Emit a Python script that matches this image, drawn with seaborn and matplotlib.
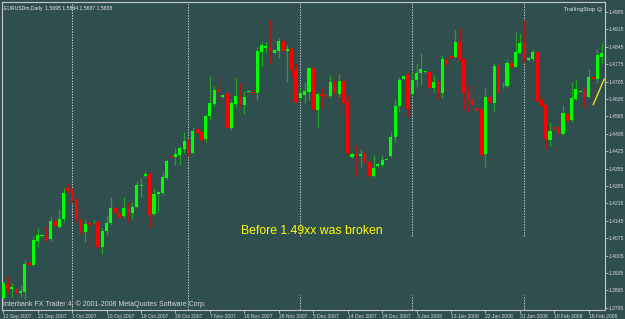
import numpy as np
import pandas as pd
import matplotlib
matplotlib.use("Agg")
import matplotlib.pyplot as plt
import seaborn as sns

# ---- data (EURUSDm, Daily) ----
opens = [1.3833, 1.3891, 1.3869, 1.3869, 1.3855, 1.3859, 1.3976, 1.3967, 1.4064, 1.4084,
         1.4088, 1.4071, 1.4145, 1.4121, 1.4151, 1.4278, 1.4269, 1.4232, 1.4151, 1.4100,
         1.4137, 1.4143, 1.4141, 1.4040, 1.4105, 1.4135, 1.4197, 1.4172, 1.4164, 1.4197,
         1.4175, 1.4201, 1.4285, 1.4325, 1.4333, 1.4172, 1.4253, 1.4258, 1.4316, 1.4406,
         1.4401, 1.4410, 1.4433, 1.4466, 1.4419, 1.4513, 1.4502, 1.4473, 1.4566, 1.4615,
         1.4674, 1.4642, 1.4657, 1.4517, 1.4615, 1.4644, 1.4611, 1.4662, 1.4664, 1.4660,
         1.4823, 1.4839, 1.4845, 1.4821, 1.4828, 1.4868, 1.4828, 1.4835, 1.4752, 1.4640,
         1.4651, 1.4662, 1.4761, 1.4591, 1.4655, 1.4650, 1.4647, 1.4707, 1.4655, 1.4707,
         1.4624, 1.4401, 1.4414, 1.4406, 1.4417, 1.4383, 1.4325, 1.4365, 1.4369, 1.4390,
         1.4406, 1.4483, 1.4607, 1.4714, 1.4731, 1.4655, 1.4711, 1.4741, 1.4743, 1.4744,
         1.4678, 1.4703, 1.4658, 1.4794, 1.4808, 1.4803, 1.4863, 1.4794, 1.4658, 1.4634,
         1.4597, 1.4593, 1.4414, 1.4642, 1.4620, 1.4768, 1.4682, 1.4687, 1.4781, 1.4765,
         1.4821, 1.4861, 1.4792, 1.4794, 1.4823, 1.4631, 1.4611, 1.4470, 1.4521, 1.4523,
         1.4494, 1.4575, 1.4550, 1.4634, 1.4664, 1.4668, 1.4642, 1.4725, 1.4714, 1.4805]
highs = [1.3900, 1.3923, 1.3894, 1.3873, 1.3887, 1.3987, 1.3987, 1.4084, 1.4115, 1.4092,
         1.4124, 1.4161, 1.4155, 1.4191, 1.4276, 1.4296, 1.4276, 1.4236, 1.4195, 1.4148,
         1.4155, 1.4148, 1.4145, 1.4115, 1.4168, 1.4240, 1.4211, 1.4181, 1.4240, 1.4222,
         1.4222, 1.4306, 1.4316, 1.4345, 1.4342, 1.4276, 1.4265, 1.4342, 1.4393, 1.4409,
         1.4437, 1.4446, 1.4503, 1.4473, 1.4523, 1.4518, 1.4510, 1.4574, 1.4727, 1.4687,
         1.4735, 1.4655, 1.4664, 1.4631, 1.4719, 1.4704, 1.4668, 1.4671, 1.4684, 1.4845,
         1.4865, 1.4865, 1.4953, 1.4835, 1.4879, 1.4901, 1.4852, 1.4843, 1.4779, 1.4678,
         1.4704, 1.4765, 1.4769, 1.4658, 1.4678, 1.4652, 1.4731, 1.4744, 1.4735, 1.4735,
         1.4651, 1.4417, 1.4450, 1.4433, 1.4437, 1.4390, 1.4410, 1.4376, 1.4410, 1.4394,
         1.4503, 1.4636, 1.4725, 1.4731, 1.4744, 1.4744, 1.4779, 1.4821, 1.4747, 1.4752,
         1.4731, 1.4711, 1.4812, 1.4808, 1.4819, 1.4913, 1.4919, 1.4799, 1.4691, 1.4691,
         1.4602, 1.4601, 1.4678, 1.4644, 1.4779, 1.4772, 1.4704, 1.4795, 1.4785, 1.4906,
         1.4899, 1.4953, 1.4804, 1.4835, 1.4825, 1.4651, 1.4615, 1.4543, 1.4523, 1.4575,
         1.4611, 1.4577, 1.4704, 1.4711, 1.4671, 1.4684, 1.4754, 1.4727, 1.4835, 1.4859]
lows = [1.3826, 1.3853, 1.3839, 1.3850, 1.3839, 1.3826, 1.3960, 1.3963, 1.4038, 1.4079,
        1.4065, 1.4065, 1.4115, 1.4115, 1.4141, 1.4256, 1.4216, 1.4141, 1.4081, 1.4061,
        1.4030, 1.4135, 1.4034, 1.4010, 1.4088, 1.4128, 1.4148, 1.4155, 1.4158, 1.4141,
        1.4151, 1.4195, 1.4242, 1.4320, 1.4121, 1.4168, 1.4181, 1.4249, 1.4312, 1.4398,
        1.4370, 1.4370, 1.4416, 1.4406, 1.4414, 1.4496, 1.4446, 1.4462, 1.4550, 1.4607,
        1.4624, 1.4639, 1.4510, 1.4510, 1.4604, 1.4602, 1.4575, 1.4659, 1.4617, 1.4631,
        1.4768, 1.4819, 1.4778, 1.4819, 1.4799, 1.4805, 1.4704, 1.4725, 1.4617, 1.4631,
        1.4617, 1.4631, 1.4584, 1.4521, 1.4597, 1.4642, 1.4642, 1.4631, 1.4644, 1.4571,
        1.4410, 1.4397, 1.4325, 1.4362, 1.4322, 1.4302, 1.4322, 1.4362, 1.4362, 1.4388,
        1.4403, 1.4463, 1.4584, 1.4711, 1.4563, 1.4651, 1.4684, 1.4691, 1.4741, 1.4655,
        1.4664, 1.4634, 1.4638, 1.4754, 1.4794, 1.4799, 1.4785, 1.4591, 1.4584, 1.4591,
        1.4583, 1.4403, 1.4362, 1.4617, 1.4588, 1.4657, 1.4678, 1.4684, 1.4752, 1.4762,
        1.4819, 1.4785, 1.4788, 1.4789, 1.4624, 1.4604, 1.4437, 1.4446, 1.4510, 1.4490,
        1.4490, 1.4537, 1.4543, 1.4631, 1.4662, 1.4604, 1.4638, 1.4607, 1.4700, 1.4780]
closes = [1.3894, 1.3869, 1.3877, 1.3855, 1.3861, 1.3971, 1.3967, 1.4068, 1.4088, 1.4087,
          1.4068, 1.4145, 1.4125, 1.4151, 1.4256, 1.4265, 1.4229, 1.4151, 1.4095, 1.4132,
          1.4129, 1.4145, 1.4040, 1.4105, 1.4135, 1.4197, 1.4175, 1.4161, 1.4197, 1.4175,
          1.4201, 1.4289, 1.4289, 1.4333, 1.4168, 1.4253, 1.4260, 1.4320, 1.4387, 1.4401,
          1.4413, 1.4437, 1.4466, 1.4419, 1.4507, 1.4499, 1.4470, 1.4567, 1.4617, 1.4673,
          1.4664, 1.4650, 1.4517, 1.4618, 1.4647, 1.4615, 1.4644, 1.4667, 1.4659, 1.4828,
          1.4852, 1.4848, 1.4828, 1.4832, 1.4868, 1.4828, 1.4835, 1.4752, 1.4624, 1.4658,
          1.4667, 1.4759, 1.4591, 1.4655, 1.4647, 1.4644, 1.4704, 1.4655, 1.4707, 1.4620,
          1.4417, 1.4414, 1.4407, 1.4414, 1.4377, 1.4326, 1.4356, 1.4373, 1.4390, 1.4392,
          1.4483, 1.4607, 1.4711, 1.4727, 1.4593, 1.4711, 1.4741, 1.4757, 1.4745, 1.4678,
          1.4703, 1.4658, 1.4794, 1.4772, 1.4801, 1.4863, 1.4794, 1.4658, 1.4634, 1.4611,
          1.4588, 1.4410, 1.4642, 1.4624, 1.4768, 1.4664, 1.4684, 1.4781, 1.4765, 1.4825,
          1.4859, 1.4794, 1.4799, 1.4823, 1.4627, 1.4607, 1.4473, 1.4507, 1.4515, 1.4494,
          1.4577, 1.4547, 1.4638, 1.4674, 1.4668, 1.4642, 1.4725, 1.4715, 1.4812, 1.4819]

date_labels = ["12 Sep 2007", "21 Sep 2007", "1 Oct 2007", "10 Oct 2007", "19 Oct 2007",
               "29 Oct 2007", "7 Nov 2007", "16 Nov 2007", "26 Nov 2007", "5 Dec 2007",
               "14 Dec 2007", "24 Dec 2007", "3 Jan 2008", "13 Jan 2008", "22 Jan 2008",
               "31 Jan 2008", "10 Feb 2008", "19 Feb 2008"]
date_bars = list(range(0, 137, 8))
price_ticks = [round(1.3795 + 0.007 * k, 4) for k in range(18)]

month_bars = [16, 43, 69, 95, 121]          # period separators
broken_bars = [69, 95, 121]                 # separators with a hidden gap
gap_prices = [1.3846, 1.4084]

trend_x = [137.0, 139.6]
trend_y = [1.4611, 1.4715]

header = "EURUSDm,Daily  1.5695 1.5864 1.5687 1.5838"
note = "Before 1.49xx was broken"
note_pos = (55.3, 1.4104)

# ---- style ----
BG = "#2f4f4f"
FRAME = "#c8c8c8"
sns.set_theme(style="dark", rc={"axes.facecolor": BG, "figure.facecolor": BG,
                                "axes.edgecolor": FRAME, "grid.alpha": 0})
plt.rcParams["font.family"] = ["Liberation Sans", "DejaVu Sans"]

df = pd.DataFrame({"open": opens, "high": highs, "low": lows, "close": closes})
df["bar"] = np.arange(len(df))
df["up"] = df["close"] >= df["open"]

W, H = 625, 319
fig = plt.figure(figsize=(W / 100, H / 100), dpi=100)
ax = fig.add_axes([2 / W, 9.5 / H, 602.5 / W, 307.5 / H])

# period separators
for b in month_bars:
    if b in broken_bars:
        ax.vlines(b, gap_prices[1], 1.51, colors="#d0d0d0", lw=0.7, linestyles=(0, (1.4, 1.4)), zorder=1)
        ax.vlines(b, 1.37, gap_prices[0], colors="#d0d0d0", lw=0.7, linestyles=(0, (1.4, 1.4)), zorder=1)
    else:
        ax.axvline(b, color="#d0d0d0", lw=0.7, ls=(0, (1.4, 1.4)), zorder=1)

# candles
bull_body, bear_body = "#00ff00", "#ff0000"
bull_wick, bear_wick = "#22a322", "#b01515"
ax.vlines(df["bar"], df["low"], df["high"],
          colors=np.where(df["up"], bull_wick, bear_wick), lw=0.9, zorder=2)
body_h = np.maximum((df["close"] - df["open"]).abs(), 0.0003)
ax.bar(df["bar"], body_h, bottom=np.minimum(df["open"], df["close"]), width=0.72,
       color=np.where(df["up"], bull_body, bear_body), linewidth=0, zorder=3)

# yellow trend line
ax.plot(trend_x, trend_y, color="#f0e020", lw=1.0, zorder=4)

ax.set_xlim(-0.3, 139.65)
ax.set_ylim(1.3788, 1.5025)

# right price scale
ax.yaxis.tick_right()
ax.set_yticks(price_ticks)
ax.set_yticklabels([f"{p:.4f}" for p in price_ticks])
ax.tick_params(axis="y", colors=FRAME, labelcolor="#d8d8d8", labelsize=3.6,
               length=2, width=0.6, pad=0.8, right=True, left=False)

# bottom date scale
ax.set_xticks(date_bars)
ax.set_xticklabels(date_labels)
ax.tick_params(axis="x", colors=FRAME, labelcolor="#d8d8d8", labelsize=3.6,
               length=2.5, width=0.6, pad=0.5, bottom=True)
for t in ax.get_xticklabels():
    t.set_horizontalalignment("left")

for s in ax.spines.values():
    s.set_color(FRAME)
    s.set_linewidth(0.8)

ax.set_xlabel("")
ax.set_ylabel("")

# texts
ax.text(0.004, 0.988, header, transform=ax.transAxes, color="#e8e8e8",
        fontsize=3.7, va="top", ha="left")
ax.text(0.996, 0.985, "TrailingStop \u263a", transform=ax.transAxes, color="#e8e8e8",
        fontsize=3.8, va="top", ha="right", family=["DejaVu Sans"])
ax.text(0.002, 0.006, "Interbank FX Trader 4, \u00a9 2001-2008 MetaQuotes Software Corp.",
        transform=ax.transAxes, color="#d8d8d8", fontsize=5.0, va="bottom", ha="left")
ax.text(note_pos[0], note_pos[1], note, color="#ffff00", fontsize=8.8,
        va="center", ha="left")

fig.savefig("out.png", dpi=100, facecolor=BG)
